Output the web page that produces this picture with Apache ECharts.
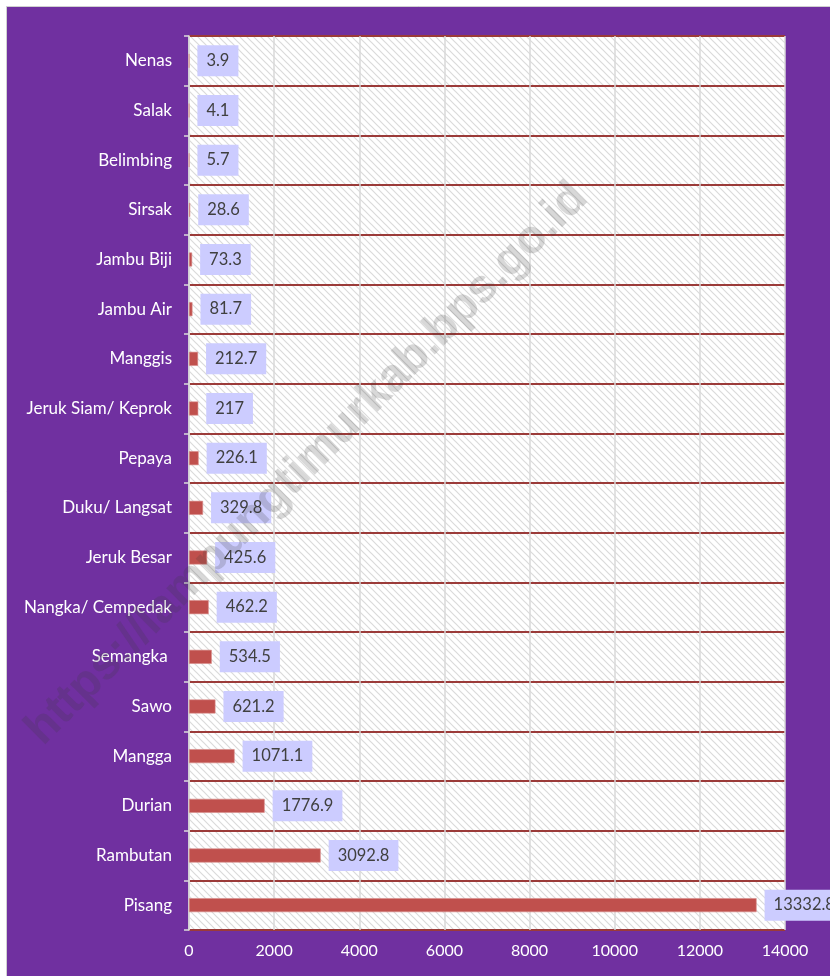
<!DOCTYPE html>
<html>
<head>
<meta charset="utf-8">
<script src="https://cdn.jsdelivr.net/npm/echarts@6/dist/echarts.min.js"></script>
<style>
html,body{margin:0;padding:0;background:#ffffff;}
#chart{width:830px;height:976px;}
</style>
</head>
<body>
<div id="chart"></div>
<script>
var categories = ['Nenas','Salak','Belimbing','Sirsak','Jambu Biji','Jambu Air','Manggis','Jeruk Siam/ Keprok','Pepaya','Duku/ Langsat','Jeruk Besar','Nangka/ Cempedak','Semangka ','Sawo','Mangga','Durian','Rambutan','Pisang'];
var values = [3.9,4.1,5.7,28.6,73.3,81.7,212.7,217,226.1,329.8,425.6,462.2,534.5,621.2,1071.1,1776.9,3092.8,13332.8];
var xMin = 0, xMax = 14000, xInterval = 2000;
var watermark = 'https://lampungtimurkab.bps.go.id';

var T = 7;
var tile = document.createElement('canvas');
tile.width = T; tile.height = T;
var c = tile.getContext('2d');
c.fillStyle = '#ffffff';
c.fillRect(0,0,T,T);
c.strokeStyle = '#dadada';
c.lineWidth = 1.2;
c.beginPath();
c.moveTo(-1,-1); c.lineTo(T+1,T+1);
c.moveTo(-1,T-1); c.lineTo(1,T+1);
c.moveTo(T-1,-1); c.lineTo(T+1,1);
c.stroke();

var chart = echarts.init(document.getElementById('chart'));
var font = 'Lato';
chart.setOption({
  backgroundColor: '#ffffff',
  animation: false,
  graphic: [
    {type:'rect', z:-10, silent:true, shape:{x:6.5,y:6.5,width:840,height:990},
     style:{fill:'#7030A0', stroke:'#d0d0d0', lineWidth:1}},
    {type:'text', z:100, silent:true, x:307, y:464, rotation:Math.PI/4,
     style:{text:watermark, font:'bold 47px Liberation Sans', fill:'rgba(60,60,60,0.2)', align:'center', verticalAlign:'middle'}}
  ],
  grid: {left:189, right:45, top:36, bottom:46, show:true, borderWidth:0,
    backgroundColor:{image:tile, repeat:'repeat'}},
  xAxis: {
    type:'value', min:xMin, max:xMax, interval:xInterval,
    axisLine:{show:false}, axisTick:{show:false},
    axisLabel:{color:'#ffffff', fontSize:16, fontFamily:font, margin:13, formatter:function(v){return String(v);}},
    splitLine:{show:true, lineStyle:{color:'#d9d9d9', width:1.5}}
  },
  yAxis: {
    type:'category', data:categories, inverse:true,
    axisLine:{show:true, lineStyle:{color:'#d9d9d9', width:1.5}},
    axisTick:{show:true, length:5, lineStyle:{color:'#d9d9d9', width:1.5}},
    axisLabel:{color:'#ffffff', fontSize:17, fontFamily:font, margin:17},
    splitLine:{show:true, lineStyle:{color:'#9b3b39', width:2}}
  },
  series: [{
    type:'bar', data:values, barWidth:14,
    itemStyle:{color:'#C0504D', borderColor:'#d88b89', borderWidth:0.6},
    label:{show:true, position:'right', distance:8, color:'#404040', fontSize:16.5, fontFamily:font,
      backgroundColor:'#CCCCFF', padding:[7,9,7,9]}
  }]
});
</script>
</body>
</html>
